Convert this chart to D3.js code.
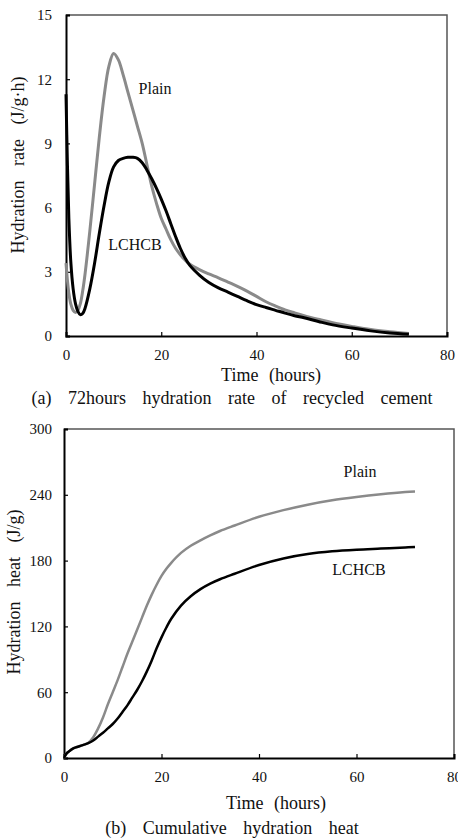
<!DOCTYPE html>
<html><head><meta charset="utf-8">
<script src="https://cdn.jsdelivr.net/npm/d3@7"></script>
</head>
<body style="margin:0;background:#fff;">
<svg id="c" width="458" height="840"></svg>
<script>
// ---- Data (a) hydration rate ----
const rateTime = [0,0.3,0.6,1,1.5,2,2.5,3,3.5,4,5,6,7,8,9,10,11,12,13,14,15,16,17,18,19,20,21,22,23,24,25,26,28,30,32,34,36,38,40,42,44,46,48,50,53,56,60,64,68,72];
const ratePlain = [3.4,2.6,2.0,1.5,1.2,1.1,1.2,1.5,2.1,2.9,4.9,7.1,9.3,11.2,12.6,13.2,12.9,12.2,11.4,10.6,9.8,9.0,8.0,7.0,6.2,5.5,5.0,4.5,4.1,3.8,3.55,3.35,3.1,2.9,2.72,2.52,2.32,2.1,1.85,1.6,1.4,1.22,1.08,0.95,0.78,0.62,0.45,0.3,0.2,0.12];
const rateLCHCB = [11.3,8.0,5.5,3.5,2.2,1.5,1.15,1.0,1.05,1.3,2.2,3.4,4.8,6.1,7.2,7.9,8.2,8.3,8.35,8.35,8.3,8.1,7.75,7.35,6.9,6.4,5.85,5.25,4.65,4.1,3.65,3.3,2.85,2.5,2.25,2.05,1.85,1.65,1.47,1.33,1.2,1.07,0.95,0.85,0.68,0.52,0.37,0.24,0.14,0.08];

// ---- Data (b) cumulative heat ----
const heatTime = [0,0.5,1,2,3,4,5,6,7,8,9,10,11,12,13,14,15,16,17,18,19,20,21,22,24,26,28,30,32,35,40,45,50,55,60,65,70,72];
const heatPlain = [0,4,6,9,10.5,12,14,19,27,37,49,60,71,83,95,106,117,128,139,149,158,166,172.5,178,187,193.5,198.5,203,207,212,220,226,231,235,238,240.5,242.5,243];
const heatLCHCB = [0,4,6,9,10.5,12,13.5,16,19.5,23,27,31,36,42,48,55,62,70,79,89,100,110,119,127,139,147.5,154,159,163,168,176,182,186,188.5,190,191,192,192.5];

const xTicks = [0,20,40,60,80];
const rateTicks = [0,3,6,9,12,15];
const heatTicks = [0,60,120,180,240,300];

const FONT = "Liberation Serif";
const svg = d3.select("#c");

function txt(sel, size){
  return sel.attr("font-family", FONT).attr("font-size", size).attr("fill", "#111");
}

function panel(o){
  const x = d3.scaleLinear().domain([0,80]).range([o.x0,o.x1]);
  const y = d3.scaleLinear().domain(o.ydom).range([o.y1,o.y0]);
  const g = svg.append("g");
  g.append("path").attr("d",`M${o.x0},${o.y0}H${o.x1}V${o.y1}`)
    .attr("fill","none").attr("stroke","#555").attr("stroke-width",1.5);
  const ax = g.append("g").attr("transform",`translate(0,${o.y1})`)
    .call(d3.axisBottom(x).tickValues(xTicks).tickSize(-4).tickPadding(13).tickFormat(d3.format("d")));
  const ay = g.append("g").attr("transform",`translate(${o.x0},0)`)
    .call(d3.axisLeft(y).tickValues(o.yticks).tickSize(-4).tickPadding(o.ypad).tickFormat(d3.format("d")));
  [ax,ay].forEach(a=>{
    a.attr("font-family",FONT).attr("font-size",15);
    a.select(".domain").attr("stroke","#000").attr("stroke-width",2);
    a.selectAll(".tick line").attr("stroke","#000").attr("stroke-width",1.2);
    txt(a.selectAll(".tick text"), 15);
  });
  const line = d3.line().x(d=>x(d[0])).y(d=>y(d[1])).curve(d3.curveCatmullRom.alpha(0.5));
  o.series.forEach(s=>{
    g.append("path").datum(o.t.map((t,i)=>[t,s.v[i]]))
      .attr("d",line).attr("fill","none").attr("stroke",s.color)
      .attr("stroke-width",s.w).attr("stroke-linejoin","round");
  });
  o.labels.forEach(l=>{
    txt(g.append("text").attr("x",l.x).attr("y",l.y).attr("text-anchor","middle"),16).text(l.text);
  });
  txt(g.append("text").attr("transform",`translate(${o.ylx},${o.ylc}) rotate(-90)`)
    .attr("text-anchor","middle"),18).attr("word-spacing",10).text(o.ylabel);
  txt(g.append("text").attr("x",o.xlx).attr("y",o.xly).attr("text-anchor","middle"),18)
    .attr("word-spacing",6).text("Time (hours)");
  txt(g.append("text").attr("x",232).attr("y",o.capy).attr("text-anchor","middle"),18)
    .attr("word-spacing",12).text(o.caption);
}

panel({x0:66,x1:447,y0:15,y1:336,ydom:[0,15],yticks:rateTicks,ypad:14,t:rateTime,
  series:[{v:ratePlain,color:"#8a8a8a",w:3},{v:rateLCHCB,color:"#000",w:3}],
  labels:[{text:"Plain",x:155,y:94},{text:"LCHCB",x:135,y:250}],
  ylabel:"Hydration rate (J/g·h)",ylx:24,ylc:165,xlx:271,xly:381,capy:404,
  caption:"(a) 72hours hydration rate of recycled cement"});

panel({x0:64,x1:454,y0:429,y1:758,ydom:[0,300],yticks:heatTicks,ypad:12,t:heatTime,
  series:[{v:heatPlain,color:"#8a8a8a",w:2.5},{v:heatLCHCB,color:"#000",w:2.5}],
  labels:[{text:"Plain",x:360,y:477},{text:"LCHCB",x:359,y:575}],
  ylabel:"Hydration heat (J/g)",ylx:20,ylc:592,xlx:276,xly:809,capy:834,
  caption:"(b) Cumulative hydration heat"});
</script></body></html>
